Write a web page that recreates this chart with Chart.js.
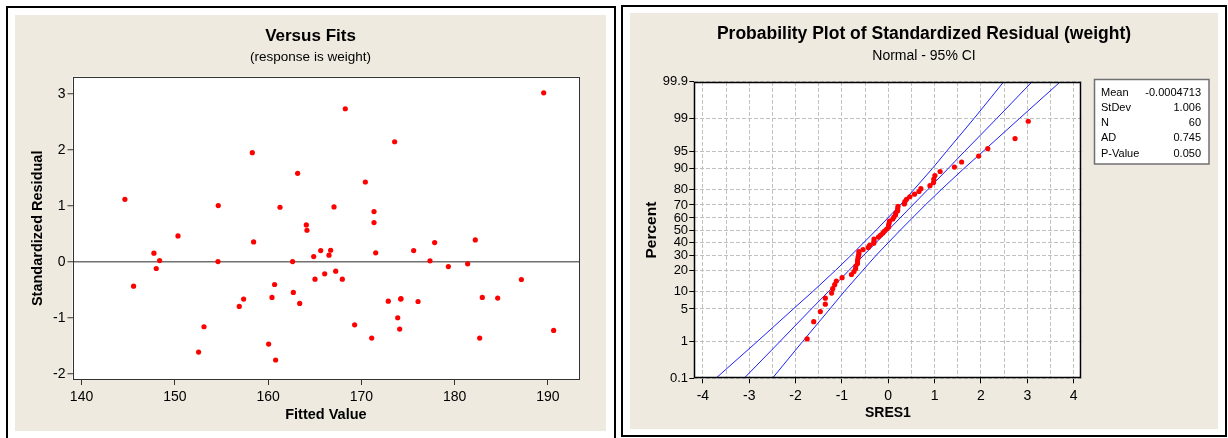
<!DOCTYPE html>
<html>
<head>
<meta charset="utf-8">
<script src="https://cdn.jsdelivr.net/npm/chart.js@4.4.1/dist/chart.umd.min.js"></script>
<style>
    body { margin: 0; background: #fff; width: 1228px; height: 438px; overflow: hidden; position: relative; }
    .frame { position: absolute; border: 2px solid #000; box-sizing: border-box; }
    .sheet { position: absolute; background: #eeeae0; }
    canvas { position: absolute; left: 0; top: 0; }
</style>
</head>
<body>
<div class="frame" style="left:6px;top:6px;width:610px;height:440px"></div>
<div class="frame" style="left:621px;top:5px;width:606px;height:432px"></div>
<div class="sheet" style="left:15px;top:15px;width:591px;height:416px"><canvas id="chartFits" width="591" height="416"></canvas></div>
<div class="sheet" style="left:630px;top:13px;width:588px;height:416px"><canvas id="chartProb" width="588" height="416"></canvas></div>
<script>
//  Data

const fits = [
    144.65, 145.58, 147.76, 148.01, 148.37, 150.34, 152.55, 153.13, 154.66, 154.63,
    156.91, 157.38, 158.31, 158.45, 160.06, 160.42, 160.70, 160.81, 161.28, 162.63,
    162.71, 163.17, 163.39, 164.10, 164.17, 164.89, 165.03, 165.64, 166.07, 166.53,
    166.71, 167.07, 167.25, 167.96, 168.28, 169.28, 170.43, 171.11, 171.36, 171.36,
    171.54, 172.89, 173.57, 173.90, 174.11, 174.22, 174.25, 175.61, 176.08, 177.36,
    177.86, 179.33, 181.40, 182.22, 182.69, 182.97, 184.62, 187.16, 189.55, 190.62,
];
const sres = [
    1.119, -0.431, 0.157, -0.116, 0.026, 0.466, -1.608, -1.156, 1.007, 0.008,
    -0.794, -0.663, 1.951, 0.359, -1.465, -0.633, -0.402, -1.750, 0.977, 0.008,
    -0.544, 1.583, -0.740, 0.662, 0.567, 0.097, -0.307, 0.204, -0.212, 0.121,
    0.210, 0.983, -0.164, -0.307, 2.736, -1.121, 1.428, -1.358, 0.900, 0.704,
    0.163, -0.699, 2.147, -0.996, -1.198, -0.663, -0.655, 0.204, -0.705, 0.020,
    0.347, -0.081, -0.033, 0.394, -1.358, -0.633, -0.645, -0.313, 3.021, -1.222,
];
const fitTicks = [140, 150, 160, 170, 180, 190];
const sresTicks = [-2, -1, 0, 1, 2, 3];

// probability plot: percent for each sorted residual
const probPct = [
    1.16, 2.81, 4.47, 6.13, 7.78, 9.44, 11.09, 12.75, 14.40, 16.06,
    17.72, 19.37, 21.03, 22.68, 24.34, 25.99, 27.65, 29.30, 30.96, 32.62,
    34.27, 35.93, 37.58, 39.24, 40.89, 42.55, 44.21, 45.86, 47.52, 49.17,
    50.83, 52.48, 54.14, 55.79, 57.45, 59.11, 60.76, 62.42, 64.07, 65.73,
    67.38, 69.04, 70.70, 72.35, 74.01, 75.66, 77.32, 78.97, 80.63, 82.28,
    83.94, 85.60, 87.25, 88.91, 90.56, 92.22, 93.87, 95.53, 97.19, 98.84,
];
const bandPct = [0.1, 1, 5, 10, 20, 30, 50, 70, 80, 90, 95, 99, 99.9];
const ciLower = [-3.72, -2.83, -2.05, -1.63, -1.14, -0.80, -0.26, 0.26, 0.55, 0.95, 1.26, 1.85, 2.49];
const fitLine = [-3.11, -2.34, -1.66, -1.29, -0.85, -0.53, 0.00, 0.53, 0.85, 1.29, 1.65, 2.34, 3.10];
const ciUpper = [-2.50, -1.85, -1.26, -0.95, -0.55, -0.26, 0.26, 0.80, 1.14, 1.63, 2.05, 2.83, 3.71];
const pctTicks = [0.1, 1, 5, 10, 20, 30, 40, 50, 60, 70, 80, 90, 95, 99, 99.9];
const pctLabels = ["0.1", "1", "5", "10", "20", "30", "40", "50", "60", "70", "80", "90", "95", "99", "99.9"];
const sresGrid = [-4, -3.5, -3, -2.5, -2, -1.5, -1, -0.5, 0, 0.5, 1, 1.5, 2, 2.5, 3, 3.5, 4];
const statLabels = ["Mean", "StDev", "N", "AD", "P-Value"];
const statValues = ["-0.0004713", "1.006", "60", "0.745", "0.050"];

const FONT = "'Liberation Sans', Arial, sans-serif";
Chart.defaults.font.family = FONT;
Chart.defaults.color = "#000";

// inverse normal cdf (Acklam) for the probability axis
function normInv(p) {
    const a = [-39.69683028665376, 220.9460984245205, -275.9285104469687, 138.3577518672690, -30.66479806614716, 2.506628277459239];
    const b = [-54.47609879822406, 161.5858368580409, -155.6989798598866, 66.80131188771972, -13.28068155288572];
    const c = [-0.007784894002430293, -0.3223964580411365, -2.400758277161838, -2.549732539343734, 4.374664141464968, 2.938163982698783];
    const d = [0.007784695709041462, 0.3224671290700398, 2.445134137142996, 3.754408661907416];
    const lo = 0.02425;
    if (p < lo) {
        const q = Math.sqrt(-2 * Math.log(p));
        return (((((c[0] * q + c[1]) * q + c[2]) * q + c[3]) * q + c[4]) * q + c[5]) / ((((d[0] * q + d[1]) * q + d[2]) * q + d[3]) * q + 1);
    }
    if (p > 1 - lo) {
        const q = Math.sqrt(-2 * Math.log(1 - p));
        return -(((((c[0] * q + c[1]) * q + c[2]) * q + c[3]) * q + c[4]) * q + c[5]) / ((((d[0] * q + d[1]) * q + d[2]) * q + d[3]) * q + 1);
    }
    const q = p - 0.5, r = q * q;
    return (((((a[0] * r + a[1]) * r + a[2]) * r + a[3]) * r + a[4]) * r + a[5]) * q / (((((b[0] * r + b[1]) * r + b[2]) * r + b[3]) * r + b[4]) * r + 1);
}
const pctToZ = (p) => normInv(p / 100);

// white plot area + frame
const plotFrame = {
    id: "plotFrame",
    beforeDraw(chart) {
        const a = chart.chartArea, ctx = chart.ctx;
        ctx.save();
        ctx.fillStyle = "#fff";
        ctx.fillRect(a.left, a.top, a.right - a.left, a.bottom - a.top);
        ctx.restore();
    },
    afterDraw(chart, args, opts) {
        const a = chart.chartArea, ctx = chart.ctx;
        ctx.save();
        ctx.strokeStyle = opts.color || "#000";
        ctx.lineWidth = opts.width || 1;
        ctx.strokeRect(Math.round(a.left) + 0.5, Math.round(a.top) + 0.5,
            Math.round(a.right - a.left) - 1, Math.round(a.bottom - a.top) - 1);
        ctx.restore();
    },
};

// stats table next to the probability plot
const statBox = {
    id: "statBox",
    afterDraw(chart) {
        const ctx = chart.ctx;
        ctx.save();
        ctx.fillStyle = "#fff";
        ctx.fillRect(464, 66, 115, 85);
        ctx.strokeStyle = "#707070";
        ctx.lineWidth = 1.5;
        ctx.strokeRect(464.5, 66.5, 114.5, 84.5);
        ctx.fillStyle = "#000";
        ctx.font = "11px " + FONT;
        ctx.textBaseline = "middle";
        statLabels.forEach((lab, i) => {
            const y = 79.5 + i * 15.25;
            ctx.textAlign = "left";
            ctx.fillText(lab, 471, y);
            ctx.textAlign = "right";
            ctx.fillText(statValues[i], 571, y);
        });
        ctx.restore();
    },
};

// spacer axis on the right so titles stay centred on the panel
const spacer = (w) => ({
    position: "right",
    display: true,
    afterFit: (s) => { s.width = w; },
    grid: { display: false },
    ticks: { display: false },
    border: { display: false },
});

//  Versus Fits

const configFits = {
    type: "scatter",
    data: {
        datasets: [{
            data: fits.map((f, i) => ({ x: f, y: sres[i] })),
            backgroundColor: "#ff0000",
            borderWidth: 0,
            pointRadius: 2.6,
        }, ],
    },
    options: {
        responsive: false,
        animation: false,
        events: [],
        layout: { padding: 0 },
        plugins: {
            legend: { display: false },
            tooltip: { enabled: false },
            title: { display: true, text: "Versus Fits", font: { size: 17, weight: "bold" }, padding: { top: 11.5, bottom: 0 } },
            subtitle: { display: true, text: "(response is weight)", color: "#000", font: { size: 13.5 }, padding: { top: 2, bottom: 11.5 } },
            plotFrame: { color: "#333", width: 1 },
        },
        scales: {
            x: {
                type: "linear",
                min: 139.03,
                max: 193.37,
                afterBuildTicks: (s) => { s.ticks = fitTicks.map((v) => ({ value: v })); },
                afterFit: (s) => { s.height = 51; },
                grid: { drawOnChartArea: false, tickLength: 5, tickColor: "#333" },
                border: { display: false },
                ticks: { font: { size: 14 }, padding: 4, maxRotation: 0, autoSkip: false },
                title: { display: true, text: "Fitted Value", font: { size: 14.5, weight: "bold" }, padding: { top: 0, bottom: 7 } },
            },
            y: {
                type: "linear",
                min: -2.107,
                max: 3.31,
                afterBuildTicks: (s) => { s.ticks = sresTicks.map((v) => ({ value: v })); },
                afterFit: (s) => { s.width = 57.5; },
                grid: {
                    color: (ctx) => (ctx.tick && ctx.tick.value === 0 ? "#707070" : "rgba(0,0,0,0)"),
                    lineWidth: 1.5,
                    tickLength: 5,
                    tickWidth: 1,
                    tickColor: "#333",
                },
                border: { display: false },
                ticks: { font: { size: 14 }, padding: 2, autoSkip: false },
                title: { display: true, text: "Standardized Residual", font: { size: 14.5, weight: "bold" }, padding: { top: 14.5, bottom: 0 } },
            },
            pad: spacer(26.7),
        },
    },
    plugins: [plotFrame],
};

var chartFits = new Chart(document.getElementById("chartFits"), configFits);

//  Probability plot

const sorted = [...sres].sort((a, b) => a - b);
const band = (xs, color) => ({
    data: bandPct.map((p, i) => ({ x: xs[i], y: pctToZ(p) })),
    showLine: true,
    borderColor: color,
    borderWidth: 1,
    pointRadius: 0,
    fill: false,
    order: 1,
});

const configProb = {
    type: "scatter",
    data: {
        datasets: [{
                data: sorted.map((v, i) => ({ x: v, y: pctToZ(probPct[i]) })),
                backgroundColor: "#ff0000",
                borderWidth: 0,
                pointRadius: 2.6,
                order: 0,
            },
            band(ciLower, "#1f1fff"),
            band(fitLine, "#1f1fff"),
            band(ciUpper, "#1f1fff"),
        ],
    },
    options: {
        responsive: false,
        animation: false,
        events: [],
        layout: { padding: 0 },
        plugins: {
            legend: { display: false },
            tooltip: { enabled: false },
            title: { display: true, text: "Probability Plot of Standardized Residual (weight)", font: { size: 17.5, weight: "bold" }, padding: { top: 11.1, bottom: 0 } },
            subtitle: { display: true, text: "Normal - 95% CI", color: "#000", font: { size: 14 }, padding: { top: 2.5, bottom: 17.5 } },
            plotFrame: { color: "#000", width: 1.5 },
        },
        scales: {
            x: {
                type: "linear",
                min: -4.185,
                max: 4.17,
                afterBuildTicks: (s) => { s.ticks = sresGrid.map((v) => ({ value: v })); },
                afterFit: (s) => { s.height = 50.7; },
                grid: {
                    color: "#c0c0c0",
                    tickLength: 5,
                    tickColor: (ctx) => (ctx.tick && Number.isInteger(ctx.tick.value) ? "#000" : "rgba(0,0,0,0)"),
                },
                border: { display: false, dash: [4, 2] },
                ticks: {
                    font: { size: 14 },
                    padding: 4,
                    maxRotation: 0,
                    autoSkip: false,
                    callback: (v) => (Number.isInteger(v) ? String(v) : ""),
                },
                title: { display: true, text: "SRES1", font: { size: 14, weight: "bold" }, padding: { top: 0, bottom: 7 } },
            },
            y: {
                type: "linear",
                min: pctToZ(0.1),
                max: pctToZ(99.9),
                afterBuildTicks: (s) => { s.ticks = pctTicks.map((p) => ({ value: pctToZ(p) })); },
                afterFit: (s) => { s.width = 64.3; },
                grid: { color: "#c0c0c0", tickLength: 5, tickColor: "#000" },
                border: { display: false, dash: [4, 2] },
                ticks: { font: { size: 13 }, padding: 1.2, autoSkip: false, callback: (v, i) => pctLabels[i] },
                title: { display: true, text: "Percent", font: { size: 15.5, weight: "bold" }, padding: { top: 12, bottom: 0 } },
            },
            pad: spacer(136.5),
        },
    },
    plugins: [plotFrame, statBox],
};

var chartProb = new Chart(document.getElementById("chartProb"), configProb);
</script>
</body>
</html>
